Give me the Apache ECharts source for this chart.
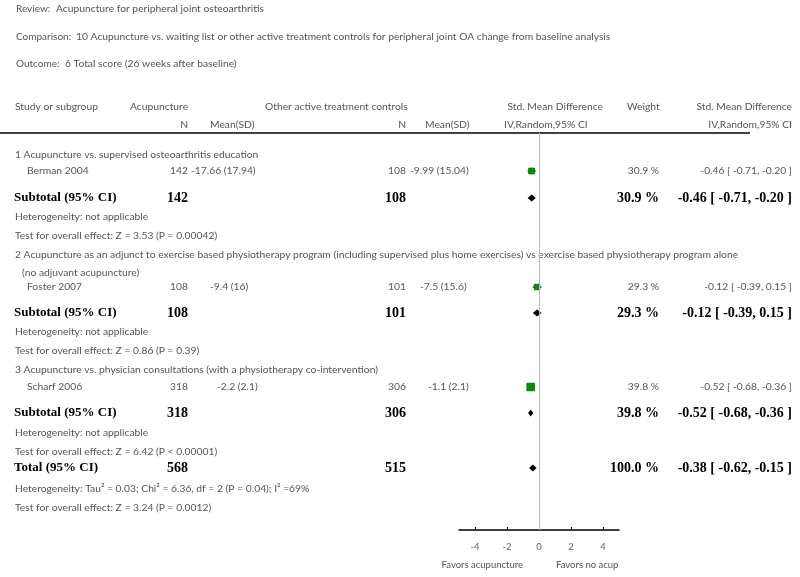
<!DOCTYPE html>
<html><head><meta charset="utf-8">
<script src="https://cdn.jsdelivr.net/npm/echarts@6/dist/echarts.min.js"></script>
<style>html,body{margin:0;padding:0;background:#fff}#c{width:800px;height:577px}</style>
</head><body><div id="c"></div>
<script>
// ---------- data ----------
const reviewTitle = 'Acupuncture for peripheral joint osteoarthritis';
const comparisonTitle = '10 Acupuncture vs. waiting list or other active treatment controls for peripheral joint OA change from baseline analysis';
const outcomeTitle = '6 Total score (26 weeks after baseline)';
const groupTitles = [
  ['1 Acupuncture vs. supervised osteoarthritis education'],
  ['2 Acupuncture as an adjunct to exercise based physiotherapy program (including supervised plus home exercises) vs exercise based physiotherapy program alone', '(no adjuvant acupuncture)'],
  ['3 Acupuncture vs. physician consultations (with a physiotherapy co-intervention)']
];
const studies = ['Berman 2004', 'Foster 2007', 'Scharf 2006'];
const acuN = [142, 108, 318];
const acuMeanSD = ['-17.66 (17.94)', '-9.4 (16)', '-2.2 (2.1)'];
const ctrlN = [108, 101, 306];
const ctrlMeanSD = ['-9.99 (15.04)', '-7.5 (15.6)', '-1.1 (2.1)'];
const studySMD = [-0.46, -0.12, -0.52];
const studyLo = [-0.71, -0.39, -0.68];
const studyHi = [-0.20, 0.15, -0.36];
const studyWeight = [30.9, 29.3, 39.8];
const subSMD = [-0.46, -0.12, -0.52];
const subLo = [-0.71, -0.39, -0.68];
const subHi = [-0.20, 0.15, -0.36];
const subWeight = [30.9, 29.3, 39.8];
const subAcuN = [142, 108, 318];
const subCtrlN = [108, 101, 306];
const subHetero = ['Heterogeneity: not applicable', 'Heterogeneity: not applicable', 'Heterogeneity: not applicable'];
const subTest = ['Test for overall effect: Z = 3.53 (P = 0.00042)', 'Test for overall effect: Z = 0.86 (P = 0.39)', 'Test for overall effect: Z = 6.42 (P < 0.00001)'];
const totalN = [568, 515];
const totalSMD = -0.38, totalLo = -0.62, totalHi = -0.15, totalWeight = 100.0;
const totalHetero = 'Heterogeneity: Tau\u00b2 = 0.03; Chi\u00b2 = 6.36, df = 2 (P = 0.04); I\u00b2 =69%';
const totalTest = 'Test for overall effect: Z = 3.24 (P = 0.0012)';
const xTicks = [-4, -2, 0, 2, 4];
const favorsLeft = 'Favors acupuncture';
const favorsRight = 'Favors no acup';

// ---------- layout (pixel rows) ----------
const groupTitleY = [[155], [255, 273], [370]];
const studyY = [171, 287, 387];
const subY = [198, 313, 413];
const heteroY = [217, 332, 433];
const testY = [236, 351, 452];
const totalY = 468, totalHeteroY = 489, totalTestY = 508;
const headerLineY = 133;
const axisY = 530;
const smallFont = 'Lato, "Open Sans", sans-serif';
const boldFont = '"Liberation Serif", "DejaVu Serif", serif';
const gray = '#555';
const SMALL = 10.3;

const fmt2 = v => (v < 0 ? '-' : '') + Math.abs(v).toFixed(2);
const ciText = (e, l, h) => fmt2(e) + ' [ ' + fmt2(l) + ', ' + fmt2(h) + ' ]';

const g = [];
function t(text, x, y, align, opt) {
  opt = opt || {};
  g.push({type: 'text', x: x, y: y, silent: true, style: {
    text: text, x: 0, y: 0, textAlign: align || 'left', textVerticalAlign: 'middle',
    font: opt.bold ? ('bold ' + (opt.size || 13) + 'px ' + boldFont) : ((opt.size || SMALL) + 'px ' + smallFont),
    fill: opt.bold ? '#000' : (opt.color || gray)
  }});
}
const B = {bold: true, size: 13};
const BN = {bold: true, size: 14};
// titles
t('Review:', 16, 9, 'left', {size: 10}); t(reviewTitle, 56, 9, 'left');
t('Comparison:', 16, 37, 'left', {size: 10}); t(comparisonTitle, 76, 37, 'left');
t('Outcome:', 16, 64, 'left', {size: 10}); t(outcomeTitle, 65, 64, 'left');
// header
t('Study or subgroup', 15, 107); t('Acupuncture', 130, 107);
t('Other active treatment controls', 265, 107);
t('Std. Mean Difference', 603, 107, 'right');
t('Weight', 627, 107);
t('Std. Mean Difference', 792, 107, 'right');
t('N', 188, 125, 'right'); t('Mean(SD)', 210, 125);
t('N', 406, 125, 'right'); t('Mean(SD)', 425, 125);
t('IV,Random,95% CI', 504, 125);
t('IV,Random,95% CI', 792, 125, 'right');
g.push({type: 'line', silent: true, shape: {x1: 0, y1: headerLineY, x2: 750, y2: headerLineY}, style: {stroke: '#000', lineWidth: 1.5}});

for (let i = 0; i < studies.length; i++) {
  groupTitles[i].forEach((s, k) => t(s, k === 0 ? 15 : 22, groupTitleY[i][k]));
  const y = studyY[i];
  t(studies[i], 27, y);
  t(String(acuN[i]), 188, y, 'right');
  t(acuMeanSD[i], [191, 210, 217][i], y);
  t(String(ctrlN[i]), 406, y, 'right');
  t(ctrlMeanSD[i], [410, 420, 428][i], y);
  t(studyWeight[i].toFixed(1) + ' %', 659, y, 'right');
  t(ciText(studySMD[i], studyLo[i], studyHi[i]), 792, y, 'right');
  const sy = subY[i];
  t('Subtotal (95% CI)', 14, sy, 'left', B);
  t(String(subAcuN[i]), 188, sy, 'right', BN);
  t(String(subCtrlN[i]), 406, sy, 'right', BN);
  t(subWeight[i].toFixed(1) + ' %', 659, sy, 'right', BN);
  t(ciText(subSMD[i], subLo[i], subHi[i]), 792, sy, 'right', BN);
  t(subHetero[i], 15, heteroY[i]);
  t(subTest[i], 15, testY[i]);
}
t('Total (95% CI)', 14, totalY, 'left', B);
t(String(totalN[0]), 188, totalY, 'right', BN);
t(String(totalN[1]), 406, totalY, 'right', BN);
t(totalWeight.toFixed(1) + ' %', 659, totalY, 'right', BN);
t(ciText(totalSMD, totalLo, totalHi), 792, totalY, 'right', BN);
t(totalHetero, 15, totalHeteroY);
t(totalTest, 15, totalTestY);
t(favorsLeft, 523, 565, 'right', {size: 9.5});
t(favorsRight, 556, 565, 'left', {size: 9.5});

// ---------- series data ----------
const squares = studies.map((s, i) => [studySMD[i], studyY[i], studyLo[i], studyHi[i], studyWeight[i]]);
const diamonds = subSMD.map((v, i) => [v, subY[i], subLo[i], subHi[i]]).concat([[totalSMD, totalY, totalLo, totalHi]]);

const option = {
  animation: false,
  backgroundColor: '#fff',
  grid: {left: 459, width: 160, top: 0, height: axisY},
  xAxis: {
    type: 'value', min: -5, max: 5,
    axisLine: {show: true, onZero: false, lineStyle: {color: '#000', width: 1.5}},
    axisTick: {show: true, inside: true, length: 3, customValues: xTicks, lineStyle: {color: '#000'}},
    axisLabel: {show: true, customValues: xTicks, color: '#666', fontSize: 9.5, fontFamily: smallFont, margin: 12},
    splitLine: {show: false}
  },
  yAxis: {type: 'value', min: 0, max: axisY, inverse: true, show: false},
  graphic: {elements: g},
  series: [
    {
      type: 'line', data: [], silent: true,
      markLine: {silent: true, symbol: 'none', label: {show: false},
        lineStyle: {color: '#bbb', width: 1, type: 'solid'},
        data: [[{coord: [0, headerLineY]}, {coord: [0, axisY]}]]}
    },
    {
      type: 'custom', data: squares, silent: true,
      renderItem: function (params, api) {
        const c = api.coord([api.value(0), api.value(1)]);
        const l = api.coord([api.value(2), api.value(1)]);
        const h = api.coord([api.value(3), api.value(1)]);
        const s = api.value(4) * 0.19;
        return {type: 'group', children: [
          {type: 'line', shape: {x1: l[0], y1: c[1], x2: h[0], y2: c[1]}, style: {stroke: '#000', lineWidth: 1}},
          {type: 'rect', shape: {x: c[0] - s / 2, y: c[1] - s / 2, width: s, height: s}, style: {fill: '#0a8a0a', stroke: '#006400', lineWidth: 0.8}}
        ]};
      }
    },
    {
      type: 'custom', data: diamonds, silent: true,
      renderItem: function (params, api) {
        const c = api.coord([api.value(0), api.value(1)]);
        const l = api.coord([api.value(2), api.value(1)]);
        const h = api.coord([api.value(3), api.value(1)]);
        return {type: 'polygon', shape: {points: [[l[0], c[1]], [c[0], c[1] - 3.5], [h[0], c[1]], [c[0], c[1] + 3.5]]}, style: {fill: '#000'}};
      }
    }
  ]
};
const chart = echarts.init(document.getElementById('c'), null, {renderer: 'canvas'});
chart.setOption(option);
</script></body></html>
